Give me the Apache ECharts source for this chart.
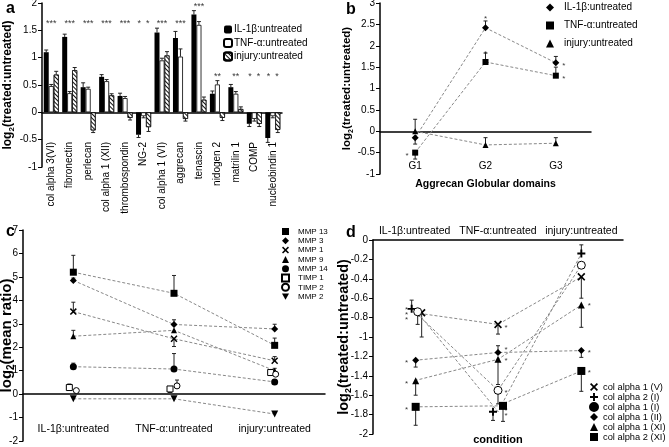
<!DOCTYPE html>
<html>
<head>
<meta charset="utf-8">
<script src="https://cdn.jsdelivr.net/npm/echarts@6/dist/echarts.min.js"></script>
<style>html,body{margin:0;padding:0;background:#fff}#chart{width:669px;height:447px}</style>
</head>
<body>
<div id="chart"></div>
<script>
const FONT = "'Liberation Sans', Arial, Helvetica, sans-serif";
const conditions = ['IL-1β:untreated', 'TNF-α:untreated', 'injury:untreated'];

// a: ECM genes, bars
const genesA = ['col alpha 3(VI)', 'fibronectin', 'perlecan', 'col alpha 1 (XII)', 'thrombospondin', 'NG-2',
  'col alpha 1 (VI)', 'aggrecan', 'tenascin', 'nidogen 2', 'matrilin 1', 'COMP', 'nucleobindin 1'];
const ilA  = [1.10, 1.38, 0.46, 0.65, 0.30, -0.41, 1.46, 1.36, 1.79, 0.34, 0.46, -0.21, -0.47];
const tnfA = [0.48, 0.35, 0.43, 0.57, 0.26, -0.07, 0.95, 1.02, 1.60, 0.51, 0.34, -0.12, -0.07];
const injA = [0.69, 0.77, -0.33, 0.31, -0.10, -0.27, 1.04, -0.12, 0.23, -0.10, 0.06, -0.21, -0.32];
const ilErrA  = [0.04, 0.05, 0.08, 0.04, 0.05, 0.05, 0.08, 0.12, 0.07, 0.05, 0.05, 0.05, 0.08];
const tnfErrA = [0.03, 0.03, 0.03, 0.03, 0.03, 0.03, 0.04, 0.14, 0.06, 0.07, 0.04, 0.04, 0.03];
const injErrA = [0.06, 0.05, 0.04, 0.03, 0.04, 0.08, 0.07, 0.04, 0.05, 0.05, 0.04, 0.05, 0.05];
const sigA = ['***', '***', '***', '***', '***', '*  *', '***', '***', '***', '**', '**', '*  *', '*  *'];
const sigLevelA = [1.68, 1.68, 1.68, 1.68, 1.68, 1.68, 1.68, 1.68, 1.99, 0.71, 0.71, 0.71, 0.71];

// b: aggrecan globular domains
const domainsB = ['G1', 'G2', 'G3'];
const ilB  = [-0.15, 2.42, 1.60];
const tnfB = [-0.50, 1.62, 1.30];
const injB = [0.00, -0.32, -0.28];
const ilErrB  = [-0.15, 0.16, 0.15];
const tnfErrB = [-0.15, 0.21, 0.20];
const injErrB = [0.28, 0.17, 0.13];
const sigB = [[0, -0.5, '*', 'left'], [1, 2.69, '*', 'top'], [1, 1.88, '*', 'top'], [2, 1.6, '*', 'right'], [2, 1.3, '*', 'right']];

// c: MMPs / TIMPs
const mmpNames = ['MMP 13', 'MMP 3', 'MMP 1', 'MMP 9', 'MMP 14', 'TIMP 1', 'TIMP 2', 'MMP 2'];
const mmp13 = [5.20, 4.30, 2.08];
const mmp3  = [4.85, 2.97, 2.78];
const mmp1  = [3.52, 2.36, 1.42];
const mmp9  = [2.47, 2.72, 1.00];
const mmp14 = [1.17, 1.07, 0.52];
const timp1 = [0.28, 0.22, 0.92];
const timp2 = [0.15, 0.35, 0.85];
const mmp2  = [-0.20, -0.20, -0.85];
const mmp13Err = [0.72, 0.76, 0.31];
const mmp3Err  = [0.10, 0.20, 0.20];
const mmp1Err  = [0.40, -0.33, 0.18];
const mmp9Err  = [0.25, 0, 0.10];
const mmp14Err = [0.15, 0.66, 0.10];
const timp1Err = [0.15, -0.15, 0.10];
const timp2Err = [0, 0.25, 0.05];
const mmp2Err  = [0, 0, 0];

// d: collagens
const colNames = ['col alpha 1 (V)', 'col alpha 2 (I)', 'col alpha 1 (I)', 'col alpha 1 (II)', 'col alpha 1 (XI)', 'col alpha 2 (XI)'];
const col1V   = [-0.75, -0.87, -0.38];
const col2I   = [-0.71, -1.77, -0.14];
const col1I   = [-0.74, -1.55, -0.26];
const col1II  = [-1.24, -1.16, -1.14];
const col1XI  = [-1.45, -1.23, -0.67];
const col2XI  = [-1.72, -1.71, -1.35];
const col1VErr  = [-0.25, -0.10, -0.22];
const col2IErr  = [0.09, -0.09, 0.09];
const col1IErr  = [-0.13, -0.14, 0];
const col1IIErr = [-0.07, 0.07, -0.07];
const col1XIErr = [-0.15, -0.26, -0.23];
const col2XIErr = [-0.19, -0.16, -0.21];
const sigD = [[0, -0.74, '*\n*\n*', 'left'], [0, -1.24, '*', 'left'], [0, -1.45, '*', 'left'], [0, -1.72, '*', 'left'],
  [1, -0.87, '*', 'right'], [1, -1.10, '*', 'right'], [1, -1.21, '*', 'right'], [1, -1.54, '*', 'right'], [1, -1.76, '*\n*', 'right'],
  [2, -0.65, '*', 'right'], [2, -1.13, '*', 'right'], [2, -1.34, '*', 'right']];

const X_MARK = 'path://M0,1.5L1.5,0L5,3.5L8.5,0L10,1.5L6.5,5L10,8.5L8.5,10L5,6.5L1.5,10L0,8.5L3.5,5Z';
const PLUS = 'path://M3.8,0H6.2V3.8H10V6.2H6.2V10H3.8V6.2H0V3.8H3.8Z';
const DOWN_TRI = 'path://M0,0H10L5,9Z';

function errorBars(axis, vals, errs, dx, autoDir) {
  return {
    type: 'custom', xAxisIndex: axis, yAxisIndex: axis, z: 2, silent: true,
    data: vals.map((v, i) => [i, v, errs[i]]),
    renderItem: function (params, api) {
      const i = api.value(0), v = api.value(1);
      let e = api.value(2);
      if (!e) return;
      if (autoDir && v < 0) e = -e;
      const p0 = api.coord([i, v]), p1 = api.coord([i, v + e]);
      const x = p0[0] + (Array.isArray(dx) ? dx[i] : dx);
      return {
        type: 'group', children: [
          { type: 'line', shape: { x1: x, y1: p0[1], x2: x, y2: p1[1] }, style: { stroke: '#222', lineWidth: 1 } },
          { type: 'line', shape: { x1: x - 2, y1: p1[1], x2: x + 2, y2: p1[1] }, style: { stroke: '#222', lineWidth: 1 } }
        ]
      };
    }
  };
}

function stars(axis, list, size) {
  const dx = { left: -8, right: 8, top: 0 };
  return {
    type: 'scatter', xAxisIndex: axis, yAxisIndex: axis, symbolSize: 0, silent: true, z: 6,
    data: list.map(s => ({ value: [s[0], s[1]], label: { formatter: s[2], offset: [dx[s[3]] || 0, 3] } })),
    label: { show: true, position: 'inside', color: '#000', fontSize: size, fontFamily: FONT, lineHeight: 5 }
  };
}

function logName(rest, size) {
  return {
    name: '{t|log}{s|2}{t|' + rest + '}',
    nameTextStyle: {
      rich: {
        t: { fontFamily: FONT, fontWeight: 'bold', fontSize: size, color: '#000', lineHeight: size + 4 },
        s: { fontFamily: FONT, fontWeight: 'bold', fontSize: Math.round(size * 0.65), color: '#000', lineHeight: size + 4, verticalAlign: 'bottom' }
      }
    }
  };
}

function yAx(grid, min, max, interval, nm, nameGap) {
  return Object.assign({
    type: 'value', gridIndex: grid, min, max, interval,
    splitLine: { show: false },
    axisLine: { show: true, lineStyle: { color: '#000', width: 1.5 } },
    axisTick: { show: true, length: 4, lineStyle: { color: '#000' } },
    axisLabel: { color: '#000', fontSize: 10, fontFamily: FONT, margin: 5 },
    nameLocation: 'middle', nameRotate: 90, nameGap, nameMoveOverlap: false
  }, nm);
}

function catAx(grid, data, extra) {
  return Object.assign({
    type: 'category', gridIndex: grid, data, nameMoveOverlap: false,
    axisLine: { onZero: true, lineStyle: { color: '#000', width: 1.5 } },
    axisTick: { length: 3, lineStyle: { color: '#000' } }
  }, extra);
}

const lab = (size, margin, extra) => Object.assign({ color: '#000', fontSize: size, fontFamily: FONT, interval: 0, margin, hideOverlap: false }, extra);

const lineDash = { color: '#888', width: 1, type: [3, 2] };

function lineSeries(axis, name, vals, symbol, size, opts) {
  opts = opts || {};
  return {
    name, type: 'line', xAxisIndex: axis, yAxisIndex: axis, z: 4,
    data: vals.map((v, i) => ({ value: v, symbolOffset: [opts.dx ? opts.dx[i] : 0, 0] })),
    symbol, symbolSize: size,
    itemStyle: opts.itemStyle || { color: '#000' },
    lineStyle: opts.noLine ? { opacity: 0 } : lineDash
  };
}

// panel c styles
const styleC = [
  { symbol: 'rect', size: 7 }, { symbol: 'diamond', size: 7 }, { symbol: X_MARK, size: 7 }, { symbol: 'triangle', size: 6 },
  { symbol: 'circle', size: 7 }, { symbol: 'rect', size: 6, open: true, noLine: true, dx: [-4, -4, -4] },
  { symbol: 'circle', size: 6, open: true, noLine: true, dx: [3, 3, 1] }, { symbol: DOWN_TRI, size: 7 }
];
const valsC = [mmp13, mmp3, mmp1, mmp9, mmp14, timp1, timp2, mmp2];
const errsC = [mmp13Err, mmp3Err, mmp1Err, mmp9Err, mmp14Err, timp1Err, timp2Err, mmp2Err];

// panel d styles
const styleD = [
  { symbol: X_MARK, size: 8, dx: [7, 0, 0] }, { symbol: PLUS, size: 8, dx: [-3, -5, 0] },
  { symbol: 'circle', size: 8, open: true, dx: [3, 0, 0] }, { symbol: 'diamond', size: 7, dx: [1, 0, 0] },
  { symbol: 'triangle', size: 7, dx: [1, 0, 0] }, { symbol: 'rect', size: 8, dx: [1, 5, 0] }
];
const valsD = [col1V, col2I, col1I, col1II, col1XI, col2XI];
const errsD = [col1VErr, col2IErr, col1IErr, col1IIErr, col1XIErr, col2XIErr];
const legendIconD = [X_MARK, PLUS, 'circle', 'diamond', 'triangle', 'rect'];
const legendIconC = ['rect', 'diamond', X_MARK, 'triangle', 'circle', 'rect', 'circle', DOWN_TRI];

const openStyle = { color: '#fff', borderColor: '#000', borderWidth: 1 };
const hatch = { symbol: 'rect', symbolSize: 1, dashArrayX: [1, 0], dashArrayY: [1, 1.4], rotation: Math.PI / 4, color: '#111' };

const series = [
  { name: conditions[0], type: 'bar', xAxisIndex: 0, yAxisIndex: 0, data: ilA, barWidth: 5, barGap: '0%', itemStyle: { color: '#000' } },
  { name: conditions[1], type: 'bar', xAxisIndex: 0, yAxisIndex: 0, data: tnfA, barWidth: 5, barGap: '0%', itemStyle: { color: '#fff', borderColor: '#000', borderWidth: 0.8 } },
  { name: conditions[2], type: 'bar', xAxisIndex: 0, yAxisIndex: 0, data: injA, barWidth: 5, barGap: '0%', itemStyle: { color: '#fff', borderColor: '#000', borderWidth: 0.6, decal: hatch } },
  errorBars(0, ilA, ilErrA, -5, true),
  errorBars(0, tnfA, tnfErrA, 0, true),
  errorBars(0, injA, injErrA, 5, true),
  {
    type: 'scatter', xAxisIndex: 0, yAxisIndex: 0, symbolSize: 0, silent: true, z: 6,
    data: sigLevelA.map((v, i) => ({ value: [i, v], label: { formatter: sigA[i] } })),
    label: { show: true, position: 'inside', offset: [0, 3], color: '#000', fontSize: 9, fontFamily: FONT }
  },
  lineSeries(1, 'b:' + conditions[0], ilB, 'diamond', 7),
  lineSeries(1, 'b:' + conditions[1], tnfB, 'rect', 6),
  lineSeries(1, 'b:' + conditions[2], injB, 'triangle', 6),
  errorBars(1, ilB, ilErrB, 0),
  errorBars(1, tnfB, tnfErrB, 0),
  errorBars(1, injB, injErrB, 0),
  stars(1, sigB, 8)
];
mmpNames.forEach((n, k) => {
  const s = styleC[k];
  series.push(lineSeries(2, n, valsC[k], s.symbol, s.size, { dx: s.dx, noLine: s.noLine, itemStyle: s.open ? openStyle : null }));
  series.push(errorBars(2, valsC[k], errsC[k], s.dx || 0));
});
colNames.forEach((n, k) => {
  const s = styleD[k];
  series.push(lineSeries(3, n, valsD[k], s.symbol, s.size, { dx: s.dx, itemStyle: s.open ? openStyle : null }));
  series.push(errorBars(3, valsD[k], errsD[k], s.dx || 0));
});
series.push(stars(3, sigD, 8));

const legendText = (size, lh, pad) => ({ fontSize: size, fontFamily: FONT, color: '#000', lineHeight: lh, padding: [0, 0, 0, pad] });
const letter = { fontSize: 16, fontWeight: 'bold', fontFamily: FONT, color: '#000' };

const option = {
  animation: false,
  backgroundColor: '#fff',
  title: [
    { text: 'a', left: 1, top: -4, textStyle: letter },
    { text: 'b', left: 341, top: -3, textStyle: letter },
    { text: 'c', left: 1, top: 219, textStyle: letter },
    { text: 'd', left: 341, top: 220, textStyle: letter }
  ],
  grid: [
    { left: 42, top: 3, width: 240, height: 164, outerBoundsMode: 'none' },
    { left: 380, top: 3, width: 211, height: 171, outerBoundsMode: 'none' },
    { left: 23, top: 230, width: 302, height: 211, outerBoundsMode: 'none' },
    { left: 373, top: 240, width: 250, height: 194, outerBoundsMode: 'none' }
  ],
  legend: [
    {
      left: 223, top: 24, orient: 'vertical', padding: 0, itemWidth: 8, itemHeight: 8, itemGap: 2.5,
      textStyle: legendText(10, 11, -3), data: conditions
    },
    {
      left: 546, top: 2, orient: 'vertical', padding: 0, itemWidth: 8, itemHeight: 8, itemGap: 7,
      textStyle: legendText(10, 11, 5), lineStyle: { opacity: 0 },
      formatter: n => n.slice(2),
      data: conditions.map((c, i) => ({ name: 'b:' + c, icon: ['diamond', 'rect', 'triangle'][i] }))
    },
    {
      left: 281, top: 227, orient: 'vertical', padding: 0, itemWidth: 7, itemHeight: 7, itemGap: 0.3,
      textStyle: legendText(8, 9, 4), lineStyle: { opacity: 0 },
      data: mmpNames.map((n, i) => ({ name: n, icon: legendIconC[i] }))
    },
    {
      left: 589, top: 382, orient: 'vertical', padding: 0, itemWidth: 8, itemHeight: 8, itemGap: 0,
      textStyle: legendText(9.3, 10, 0), lineStyle: { opacity: 0 },
      data: colNames.map((n, i) => i === 2 ? { name: n, icon: 'circle', itemStyle: { color: '#000', borderColor: '#000' } } : { name: n, icon: legendIconD[i] })
    }
  ],
  xAxis: [
    catAx(0, genesA, { axisLabel: lab(10, -25, { rotate: 90 }) }),
    catAx(1, domainsB, {
      axisLabel: lab(10, -13),
      name: 'Aggrecan Globular domains', nameLocation: 'middle', nameGap: 5,
      nameTextStyle: { fontFamily: FONT, fontWeight: 'bold', fontSize: 10.5, color: '#000' }
    }),
    catAx(2, conditions, { axisLabel: lab(10.5, -17) }),
    catAx(3, conditions, {
      position: 'top',
      axisLine: { onZero: false, lineStyle: { color: '#000', width: 1.5 } },
      axisTick: { inside: true, length: 3, lineStyle: { color: '#000' } },
      axisLabel: lab(10.5, 3)
    }),
    {
      type: 'category', gridIndex: 3, data: conditions, position: 'bottom', nameMoveOverlap: false,
      axisLine: { show: false }, axisTick: { show: false }, axisLabel: { show: false },
      name: 'condition', nameLocation: 'middle', nameGap: 0,
      nameTextStyle: { fontFamily: FONT, fontWeight: 'bold', fontSize: 11, color: '#000' }
    }
  ],
  yAxis: [
    yAx(0, -1, 2, 0.5, logName('(treated:untreated)', 12), 26),
    yAx(1, -1, 3, 0.5, logName('(treated:untreated)', 11.5), 25),
    yAx(2, -2, 7, 1, logName('(mean ratio)', 15), 7),
    yAx(3, -2, 0, 0.2, logName('(treated:untreated)', 14.5), 20)
  ],
  series
};

const chart = echarts.init(document.getElementById('chart'), null, { renderer: 'canvas' });
chart.setOption(option);
</script>
</body>
</html>
